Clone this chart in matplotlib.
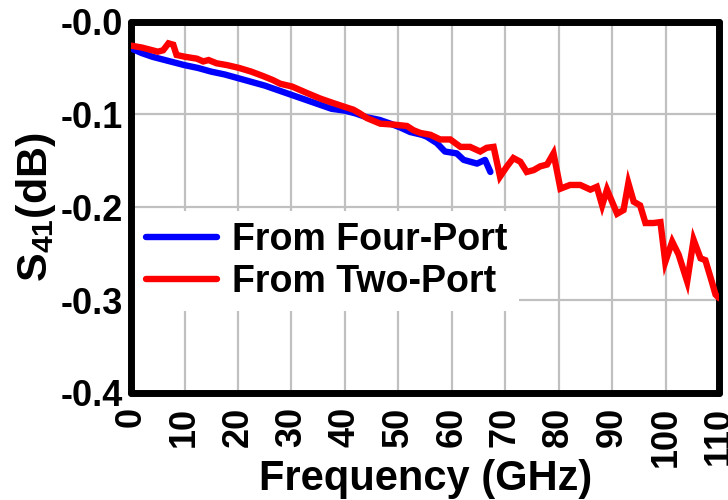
import matplotlib
matplotlib.use('Agg')
import matplotlib.pyplot as plt

# S41 extracted from four-port measurement (stops at ~67 GHz)
four_port_freq = [0, 2, 4, 6, 8, 10, 12.5, 15, 17.5, 20, 22.5, 25, 27.5, 30,
                  32.5, 35, 37.5, 40, 42, 44, 46.5, 48.5, 50.3, 52.2, 54.4,
                  55.3, 57.2, 58.7, 60.9, 62.2, 64.7, 66.2, 67.2]
four_port_s41 = [-0.029, -0.034, -0.038, -0.041, -0.044, -0.047, -0.050,
                 -0.054, -0.057, -0.061, -0.065, -0.069, -0.074, -0.079,
                 -0.084, -0.089, -0.094, -0.096, -0.099, -0.103, -0.106,
                 -0.110, -0.114, -0.119, -0.122, -0.124, -0.131, -0.140,
                 -0.142, -0.149, -0.153, -0.149, -0.162]

# S41 extracted from two-port measurement (up to 110 GHz)
two_port_freq = [0, 2, 4, 5, 6, 7, 7.9, 8.5, 10.1, 12.3, 13.5, 14.5, 16, 18,
                 20.2, 22.5, 24.8, 26.5, 27.9, 30.1, 32.9, 35.4, 37.9, 40,
                 41.6, 42.8, 44.1, 46.6, 49.1, 51.6, 52.8, 54.1, 56, 57.8,
                 59.7, 61.6, 63.4, 65.3, 66.5, 67.8, 69.0, 70.3, 71.5, 72.8,
                 74.0, 75.3, 76.5, 77.8, 79.0, 80.3, 82.1, 84.0, 85.9, 87.1,
                 88.1, 89.0, 90.9, 92.1, 93.0, 94.0, 95.2, 96.2, 97.7, 99.0,
                 99.9, 101.2, 102.4, 104.0, 105.2, 106.5, 107.4, 108.6, 109.3,
                 110]
two_port_s41 = [-0.026, -0.028, -0.031, -0.0325, -0.031, -0.0235, -0.025,
                -0.036, -0.038, -0.040, -0.043, -0.0415, -0.045, -0.047,
                -0.050, -0.054, -0.059, -0.063, -0.067, -0.070, -0.077,
                -0.083, -0.088, -0.092, -0.095, -0.099, -0.104, -0.110,
                -0.111, -0.1125, -0.117, -0.120, -0.122, -0.127, -0.127,
                -0.135, -0.135, -0.140, -0.136, -0.135, -0.167, -0.156,
                -0.147, -0.151, -0.162, -0.160, -0.156, -0.154, -0.142,
                -0.180, -0.176, -0.176, -0.181, -0.178, -0.198, -0.181,
                -0.207, -0.203, -0.174, -0.194, -0.198, -0.217, -0.217,
                -0.216, -0.259, -0.237, -0.251, -0.280, -0.235, -0.255,
                -0.257, -0.280, -0.294, -0.298]

x_ticks = list(range(0, 111, 10))
y_ticks = [-0.4, -0.3, -0.2, -0.1, 0.0]
y_tick_labels = ['-0.4', '-0.3', '-0.2', '-0.1', '-0.0']

plt.rcParams['font.family'] = ['Liberation Sans', 'DejaVu Sans']
plt.rcParams['font.weight'] = 'bold'
plt.rcParams['mathtext.fontset'] = 'custom'
plt.rcParams['mathtext.rm'] = 'Liberation Sans:bold'
plt.rcParams['mathtext.bf'] = 'Liberation Sans:bold'
plt.rcParams['mathtext.it'] = 'Liberation Sans:bold'

fig = plt.figure(figsize=(7.28, 5.0), dpi=100)
ax = fig.add_axes([0.180, 0.214, 0.808, 0.743])

ax.plot(four_port_freq, four_port_s41, color='#0000ff', lw=4.6,
        solid_joinstyle='round', solid_capstyle='round',
        label='From Four-Port', zorder=3)
ax.plot(two_port_freq, two_port_s41, color='#ff0000', lw=4.6,
        solid_joinstyle='miter', solid_capstyle='round',
        label='From Two-Port', zorder=4)

ax.set_xlim(0, 110)
ax.set_ylim(-0.4, 0.0)
ax.set_xticks(x_ticks)
ax.set_xticklabels([str(t) for t in x_ticks], rotation=90, fontsize=26,
                   fontweight='bold', va='top', ha='center')
ax.set_yticks(y_ticks)
ax.set_yticklabels(y_tick_labels, fontsize=26, fontweight='bold')
ax.tick_params(axis='both', length=0)
ax.tick_params(axis='x', pad=10)
ax.tick_params(axis='y', pad=6)

ax.grid(True, color='#c0c0c0', lw=1.6, zorder=0)
ax.set_axisbelow(True)

for sp in ax.spines.values():
    sp.set_linewidth(5)
    sp.set_capstyle('round')
    sp.set_joinstyle('round')

ax.set_xlabel('Frequency (GHz)', fontsize=30, fontweight='bold')
ax.xaxis.set_label_coords(0.5, -0.178)
ax.set_ylabel(r'S$_{41}$(dB)', fontsize=31, fontweight='bold', labelpad=2)

leg = ax.legend(loc='upper left', bbox_to_anchor=(0.0, 0.5),
                borderaxespad=0.1, handlelength=1.9,
                handletextpad=0.4, labelspacing=0.15, borderpad=0.3,
                frameon=True, fancybox=False, framealpha=1.0,
                edgecolor='none', facecolor='white',
                prop={'weight': 'bold', 'size': 27})
for line in leg.get_lines():
    line.set_linewidth(4.6)
    line.set_solid_capstyle('round')

fig.savefig('out.png', dpi=100)
